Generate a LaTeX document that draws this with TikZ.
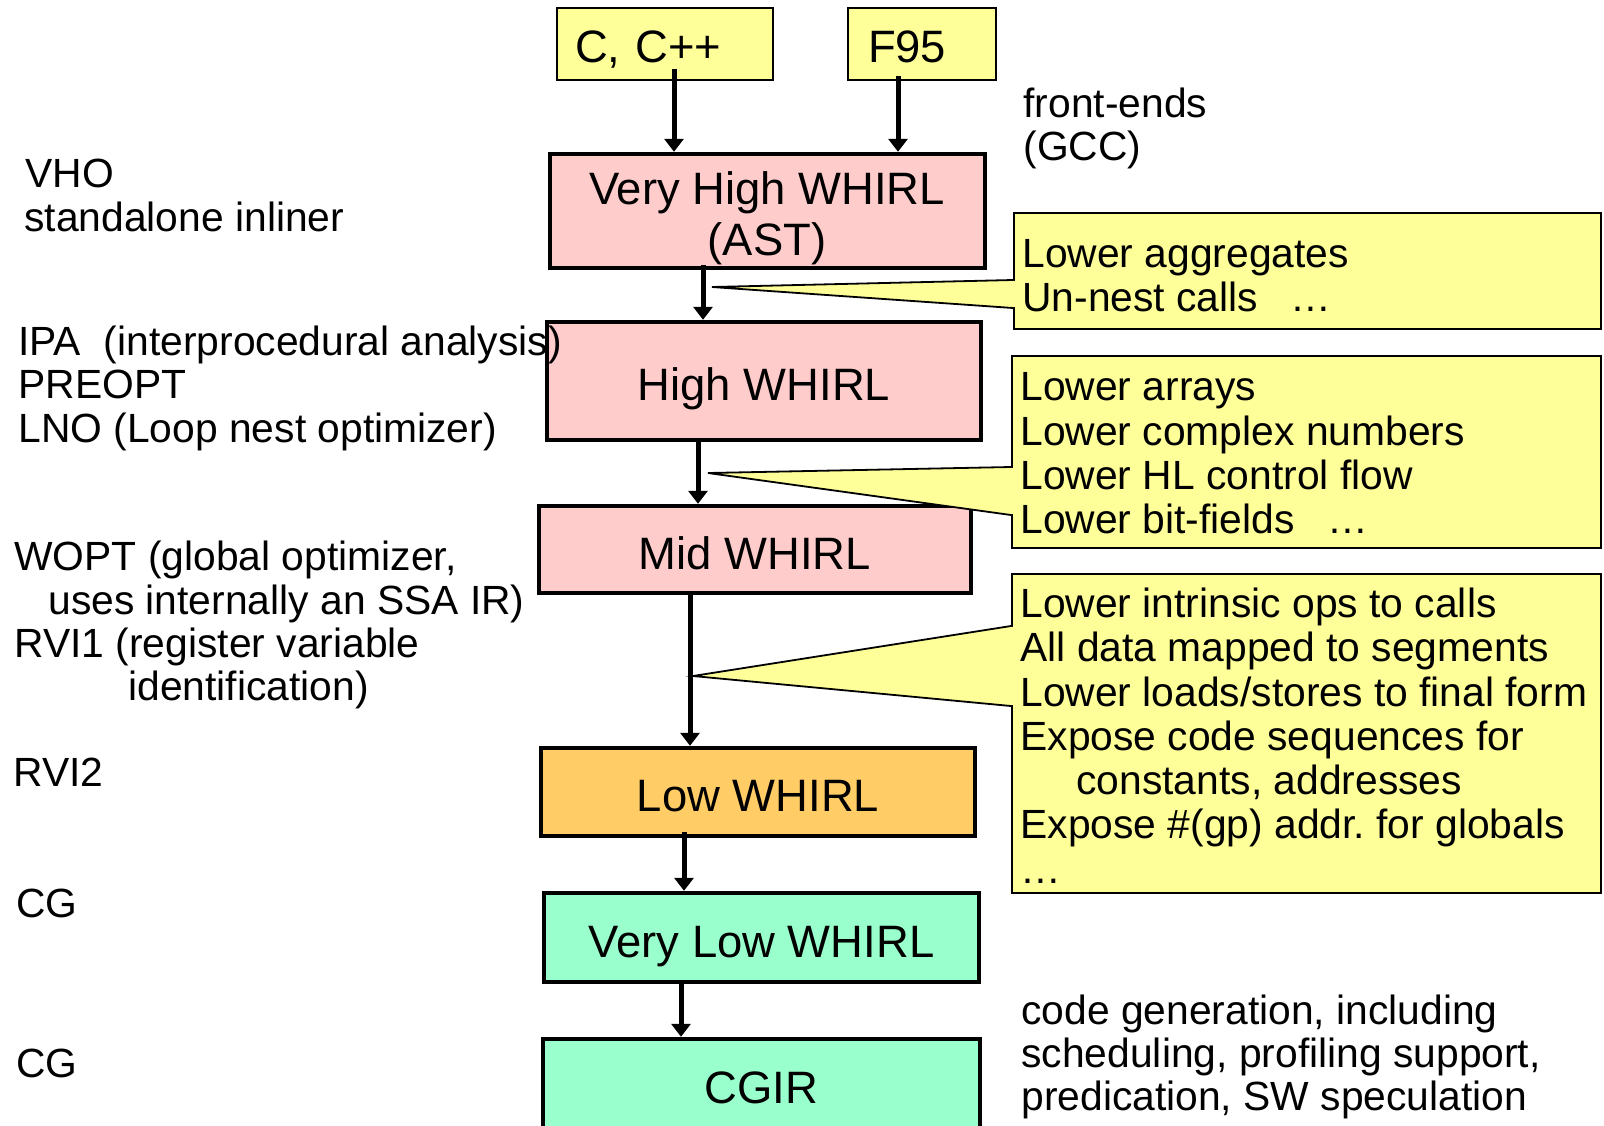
\documentclass[tikz,border=0pt]{standalone}
\usepackage{fontspec}
\setmainfont{Liberation Sans}
\usetikzlibrary{arrows.meta}
\frenchspacing

\definecolor{whirlpink}{RGB}{255,204,204}
\definecolor{noteyellow}{RGB}{255,255,153}
\definecolor{loworange}{RGB}{255,204,102}
\definecolor{cgmint}{RGB}{153,255,204}

\newcommand\stagefont{\fontsize{22.7}{25.5}\selectfont}
\newcommand\notefont{\fontsize{20.4}{22}\selectfont}

\tikzset{
  stage/.style={draw, line width=2.2pt, font=\stagefont,
    text height=19.8pt, text depth=0pt, inner sep=0pt},
  lang/.style={draw, line width=1.3pt, fill=noteyellow, font=\stagefont,
    align=left, minimum height=36pt, text height=18.3pt, text depth=0pt,
    inner ysep=0pt},
  flow/.style={line width=2.5pt, -{Triangle[width=9.5pt,length=6.5pt]}},
  notebox/.style={draw, line width=0.9pt, fill=noteyellow, inner sep=0pt,
    anchor=north west},
  wedge/.style={draw, line width=0.9pt, fill=noteyellow, line join=miter},
  txt/.style={font=\notefont, anchor=base west, inner sep=0pt},
  stagetxt/.style={font=\stagefont, anchor=base, inner sep=0pt}
}

\begin{document}
\begin{tikzpicture}[x=0.5pt, y=-0.5pt]
  \clip (0,0) rectangle (1604,1125);
  \useasboundingbox (0,0) rectangle (1604,1125);

  % front-end languages
  \node[lang, text width=90pt, inner xsep=9pt] (cc) at (665,44) {C, C++};
  \node[lang, text width=54pt, inner xsep=10pt] (f95) at (922,44) {F95};

  % WHIRL levels
  \node[stage, fill=whirlpink, minimum width=217.5pt, minimum height=57pt] (vh) at (767.5,211) {};
  \node[stagetxt] (vhline1) at (767,204) {Very High WHIRL};
  \node[stagetxt] (vhline2) at (767,255) {(AST)};
  \node[stage, fill=whirlpink, minimum width=217pt, minimum height=59pt] (hw) at (764,381) {High WHIRL};
  \node[stage, fill=whirlpink, minimum width=216pt, minimum height=43.5pt] (mw) at (755,549.5) {Mid WHIRL};
  \node[stage, fill=loworange, minimum width=217pt, minimum height=44pt] (lw) at (758,792) {Low WHIRL};
  \node[stage, fill=cgmint, minimum width=217.5pt, minimum height=44.5pt] (vlw) at (761.5,937.5) {Very Low WHIRL};
  \node[stage, fill=cgmint, minimum width=218.5pt, minimum height=45pt] (cgir) at (761.5,1084) {CGIR};

  % arrow columns
  \coordinate (colcc) at (674,0);
  \coordinate (colf) at (898,0);
  \coordinate (colvh) at (703,0);
  \coordinate (colhw) at (698,0);
  \coordinate (colmw) at (690,0);
  \coordinate (collw) at (684,0);
  \coordinate (colvl) at (681,0);

  \draw[flow] ([yshift=6pt]cc.south -| colcc) -- (vh.north -| colcc);
  \draw[flow] ([yshift=2.5pt]f95.south -| colf) -- (vh.north -| colf);
  \draw[flow] ([yshift=2.5pt]vh.south -| colvh) -- (hw.north -| colvh);
  \draw[flow] (hw.south -| colhw) -- (mw.north -| colhw);
  \draw[flow] (mw.south -| colmw) -- (lw.north -| colmw);
  \draw[flow] ([yshift=3pt]lw.south -| collw) -- (vlw.north -| collw);
  \draw[flow] (vlw.south -| colvl) -- (cgir.north -| colvl);

  % lowering notes with pointers
  \node[notebox, minimum width=293.5pt, minimum height=58pt] (n1) at (1013,212) {};
  \coordinate (n1tip) at (712,287);
  \path (n1.north west) ++(0,68) coordinate (n1a) ++(0,28) coordinate (n1b);
  \draw[wedge] (n1a) -- (n1tip) -- (n1b);
  \fill[noteyellow] ([xshift=-0.3pt,yshift=-0.6pt]n1a) rectangle ([xshift=1.5pt,yshift=0.6pt]n1b);

  \node[notebox, minimum width=294.5pt, minimum height=96pt] (n2) at (1011,355) {};
  \coordinate (n2tip) at (708,473);
  \path (n2.north west) ++(0,112) coordinate (n2a) ++(0,48) coordinate (n2b);
  \draw[wedge] (n2a) -- (n2tip) -- (n2b);
  \fill[noteyellow] ([xshift=-0.3pt,yshift=-0.6pt]n2a) rectangle ([xshift=1.5pt,yshift=0.6pt]n2b);

  \node[notebox, minimum width=294.5pt, minimum height=159.5pt] (n3) at (1011,573) {};
  \coordinate (n3tip) at (693,676);
  \path (n3.north west) ++(0,53) coordinate (n3a) ++(0,80) coordinate (n3b);
  \draw[wedge] (n3a) -- (n3tip) -- (n3b);
  \fill[noteyellow] ([xshift=-0.3pt,yshift=-0.6pt]n3a) rectangle ([xshift=1.5pt,yshift=0.6pt]n3b);

  \node[txt] (n1l1) at (1022,267) {Lower aggregates};
  \node[txt] (n1l2) at (1022,311) {Un-nest calls\hspace{0.8em}…};

  \node[txt] (n2l1) at (1020,400) {Lower arrays};
  \node[txt] (n2l2) at (1020,445) {Lower complex numbers};
  \node[txt] (n2l3) at (1020,489) {Lower HL control flow};
  \node[txt] (n2l4) at (1020,533) {Lower bit-fields\hspace{0.8em}…};

  \node[txt] (n3l1) at (1020,617) {Lower intrinsic ops to calls};
  \node[txt] (n3l2) at (1020,661) {All data mapped to segments};
  \node[txt] (n3l3) at (1020,706) {Lower loads/stores to final form};
  \node[txt] (n3l4) at (1020,750) {Expose code sequences for};
  \node[txt] (n3l5) at (1076,794) {constants, addresses};
  \node[txt] (n3l6) at (1020,838) {Expose \#(gp) addr. for globals};
  \node[txt] (n3l7) at (1020,883) {…};

  % side annotations
  \node[txt] (fe1) at (1023,117) {front-ends};
  \node[txt] (fe2) at (1023,160) {(GCC)};

  \node[txt] (vho1) at (25,187) {VHO};
  \node[txt] (vho2) at (24,231) {standalone inliner};

  \node[txt] (ipa1) at (18,355) {IPA\ \ (interprocedural analysis)};
  \node[txt] (ipa2) at (18,398) {PREOPT};
  \node[txt] (ipa3) at (18,442) {LNO (Loop nest optimizer)};

  \node[txt] (wopt1) at (14,570) {WOPT (global optimizer,};
  \node[txt] (wopt2) at (48,614) {uses internally an SSA IR)};
  \node[txt] (wopt3) at (14,657) {RVI1 (register variable};
  \node[txt] (wopt4) at (128,700) {identification)};

  \node[txt] (rvi2) at (13,786) {RVI2};
  \node[txt] (cg1) at (16,917) {CG};
  \node[txt] (cg2) at (16,1077) {CG};

  \node[txt] (cgn1) at (1021,1024) {code generation, including};
  \node[txt] (cgn2) at (1021,1067) {scheduling, profiling support,};
  \node[txt] (cgn3) at (1021,1110) {predication, SW speculation};
\end{tikzpicture}
\end{document}
